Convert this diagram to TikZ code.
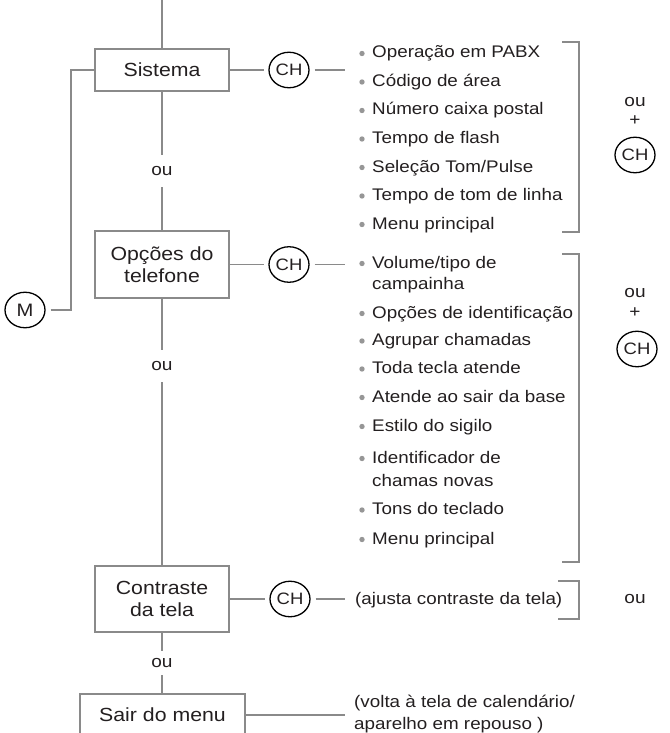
\documentclass[tikz,border=0pt]{standalone}
\usepackage{fontspec}
\setmainfont{Liberation Sans}[FakeStretch=1.12]
\usetikzlibrary{shapes.geometric}
\definecolor{lgray}{RGB}{138,138,138}
\definecolor{txt}{RGB}{35,31,32}
\definecolor{bulc}{RGB}{150,150,150}
\newcommand\bitem[3]{\fill[bulc] (362,#2+1.5) circle (2.7);
  \node[itm] (#1) at (372,#2) {#3};}
\begin{document}
\begin{tikzpicture}[x=1pt,y=-1pt,
  ln/.style={draw=lgray, line width=1.8pt},
  box/.style={draw=lgray, line width=1.8pt, rectangle, minimum width=134pt,
    inner sep=0pt, align=center, text=txt, font=\fontsize{19}{22}\selectfont},
  key/.style={draw=black, line width=1.3pt, ellipse, minimum width=40pt,
    minimum height=35.5pt, inner sep=0pt, text=txt, font=\fontsize{16.5}{18}\selectfont},
  oun/.style={inner sep=0pt, text=txt, font=\fontsize{17}{20}\selectfont},
  itm/.style={anchor=west, inner sep=0pt, text height=12pt, text depth=0pt,
    text=txt, font=\fontsize{16.8}{20}\selectfont}
]
\useasboundingbox (0,0) rectangle (669,733);

% main boxes
\node[box, minimum height=42pt] (sis) at (162,70) {Sistema};
\node[box, minimum height=67pt] (opc) at (162,264.5) {Opções do\\telefone};
\node[box, minimum height=66pt] (con) at (162,599) {Contraste\\da tela};
\node[box, minimum width=165pt, minimum height=42pt] (sair) at (162.5,715) {Sair do menu};

% ou labels on the spine
\node[oun, minimum height=32pt] (ou1) at (162,171) {ou};
\node[oun, minimum height=32pt] (ou2) at (162,366) {ou};
\node[oun, minimum height=24pt] (ou3) at (162,663) {ou};

\coordinate (top) at (162,0);
\draw[ln] (top) -- (sis);
\draw[ln] (sis) -- (ou1);
\draw[ln] (ou1) -- (opc);
\draw[ln] (opc) -- (ou2);
\draw[ln] (ou2) -- (con);
\draw[ln] (con) -- (ou3);
\draw[ln] (ou3) -- (sair.north -| ou3);

% M key
\node[key, font=\fontsize{18}{20}\selectfont] (M) at (25,310) {M};
\coordinate (mc) at (71,310);
\draw[ln, shorten <=5pt] (M) -- (mc) |- (sis.west);

% CH keys
\node[key] (ch1) at (289,70) {CH};
\node[key] (ch2) at (289,264.5) {CH};
\node[key] (ch3) at (290,599) {CH};
\coordinate (l1) at (345,70);
\coordinate (l2) at (345,264.5);
\coordinate (l3) at (345,599);
\coordinate (l4) at (345,715);
\draw[ln, shorten >=4pt] (sis) -- (ch1);
\draw[ln, shorten <=5pt] (ch1) -- (l1);
\draw[ln, shorten >=4pt] (opc) -- (ch2);
\draw[ln, shorten <=5pt] (ch2) -- (l2);
\draw[ln, shorten >=4pt] (con) -- (ch3);
\draw[ln, shorten <=5pt] (ch3) -- (l3);
\draw[ln] (sair) -- (l4);

% Sistema list
\bitem{a1}{52}{Operação em PABX}
\bitem{a2}{80.5}{Código de área}
\bitem{a3}{109}{Número caixa postal}
\bitem{a4}{137.5}{Tempo de flash}
\bitem{a5}{166}{Seleção Tom/Pulse}
\bitem{a6}{194.5}{Tempo de tom de linha}
\bitem{a7}{223}{Menu principal}

% Opcoes list
\bitem{b1}{262}{Volume/tipo de}
\node[itm] (b1b) at (372,283) {campainha};
\bitem{b2}{312}{Opções de identificação}
\bitem{b3}{339.5}{Agrupar chamadas}
\bitem{b4}{367.5}{Toda tecla atende}
\bitem{b5}{396}{Atende ao sair da base}
\bitem{b6}{425}{Estilo do sigilo}
\bitem{b7}{457}{Identificador de}
\node[itm] (b7b) at (372,480) {chamas novas};
\bitem{b8}{508.5}{Tons do teclado}
\bitem{b9}{538}{Menu principal}

% other texts
\node[itm] (aj) at (355,598) {(ajusta contraste da tela)};
\node[itm] (v1) at (354,701) {(volta à tela de calendário/};
\node[itm] (v2) at (354,723.5) {aparelho em repouso )};

% brackets
\draw[ln] (562,42) -- (579,42) -- (579,232) -- (562,232);
\draw[ln] (562,254) -- (579,254) -- (579,562) -- (562,562);
\draw[ln] (558,581) -- (579,581) -- (579,619) -- (558,619);

% right side
\node[oun] (r1) at (635,102) {ou};
\node[oun] (p1) at (635,121) {+};
\node[key] (rc1) at (635,155) {CH};
\node[oun] (r2) at (635,293) {ou};
\node[oun] (p2) at (635,313) {+};
\node[key] (rc2) at (637,349) {CH};
\node[oun] (r3) at (635,599) {ou};
\end{tikzpicture}
\end{document}
